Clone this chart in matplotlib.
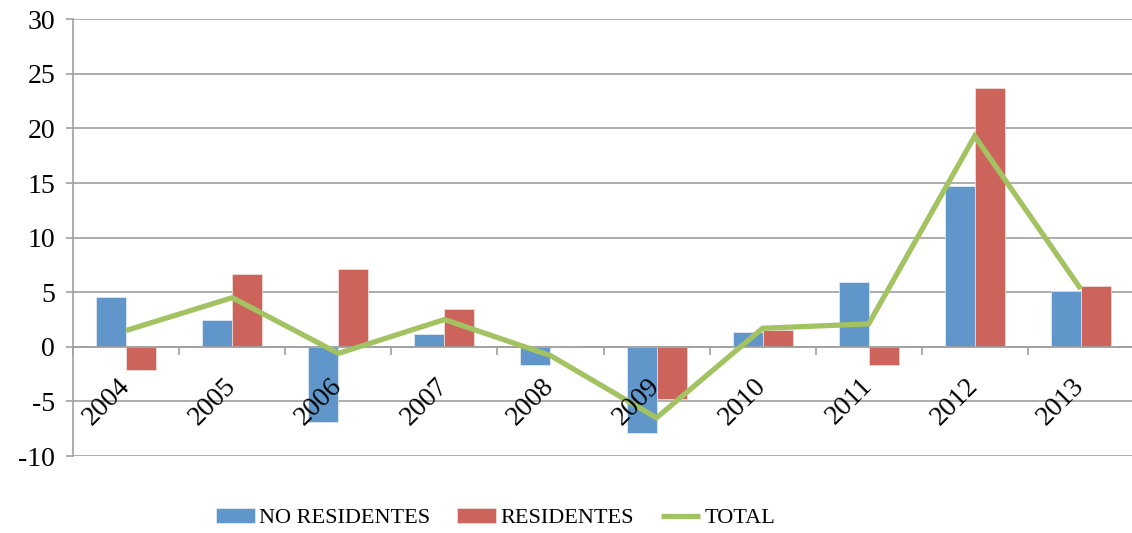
import numpy as np
import matplotlib
matplotlib.use('Agg')
import matplotlib.pyplot as plt

years = ['2004', '2005', '2006', '2007', '2008', '2009', '2010', '2011', '2012', '2013']
no_residentes = [4.6, 2.5, -6.9, 1.2, -1.7, -7.9, 1.4, 5.9, 14.7, 5.1]
residentes = [-2.1, 6.7, 7.1, 3.5, 0.05, -4.8, 1.5, -1.7, 23.7, 5.6]
total = [1.5, 4.5, -0.6, 2.5, -0.8, -6.5, 1.7, 2.1, 19.3, 5.3]

plt.rcParams['font.family'] = ['Liberation Serif', 'DejaVu Serif']
plt.rcParams['axes.unicode_minus'] = False

fig = plt.figure(figsize=(11.32, 5.33), dpi=100)
ax = fig.add_axes([73.2 / 1132, 1 - 456 / 533, 1060.6 / 1132, (456 - 19.3) / 533])

x = np.arange(len(years))
w = 0.283
b1 = ax.bar(x - w / 2, no_residentes, w, color='#6096C9', edgecolor='#E8EEF6', linewidth=0.5,
            label='NO RESIDENTES', zorder=2)
b2 = ax.bar(x + w / 2, residentes, w, color='#CC645C', edgecolor='#F4E2E0', linewidth=0.5,
            label='RESIDENTES', zorder=2)
ln, = ax.plot(x, total, color='#A3C363', lw=3.8, label='TOTAL', zorder=3,
              solid_joinstyle='miter', solid_capstyle='butt')

grid_c = '#A0A0A0'
ax.set_xlim(-0.5, len(years) - 0.5)
ax.set_ylim(-10, 30)
ax.set_yticks(range(-10, 31, 5))
ax.yaxis.grid(True, color=grid_c, lw=1.2, zorder=0)
ax.set_axisbelow(True)

for s in ['top', 'right']:
    ax.spines[s].set_visible(False)
ax.spines['left'].set_color(grid_c)
ax.spines['left'].set_linewidth(1.2)
ax.spines['bottom'].set_position(('data', 0))
ax.spines['bottom'].set_color(grid_c)
ax.spines['bottom'].set_linewidth(1.2)

ax.tick_params(axis='y', labelsize=20, length=5, width=1.2, color=grid_c, pad=8)
ax.set_xticks(np.arange(-0.5, len(years), 1.0))
ax.set_xticklabels([])
ax.tick_params(axis='x', length=6, width=1.2, color=grid_c)

for i, yr in enumerate(years):
    ax.annotate(yr, xy=(i, 0), xycoords='data', xytext=(6, -19), textcoords='offset points',
                ha='right', va='top', rotation=45, fontsize=20)

fig.legend([b1, b2, ln], ['NO RESIDENTES', 'RESIDENTES', 'TOTAL'],
           loc='center', bbox_to_anchor=(0.4377, 0.028), ncol=3, frameon=False,
           fontsize=16, handlelength=1.75, handletextpad=0.2, columnspacing=1.2)

fig.savefig('out.png', dpi=100)
